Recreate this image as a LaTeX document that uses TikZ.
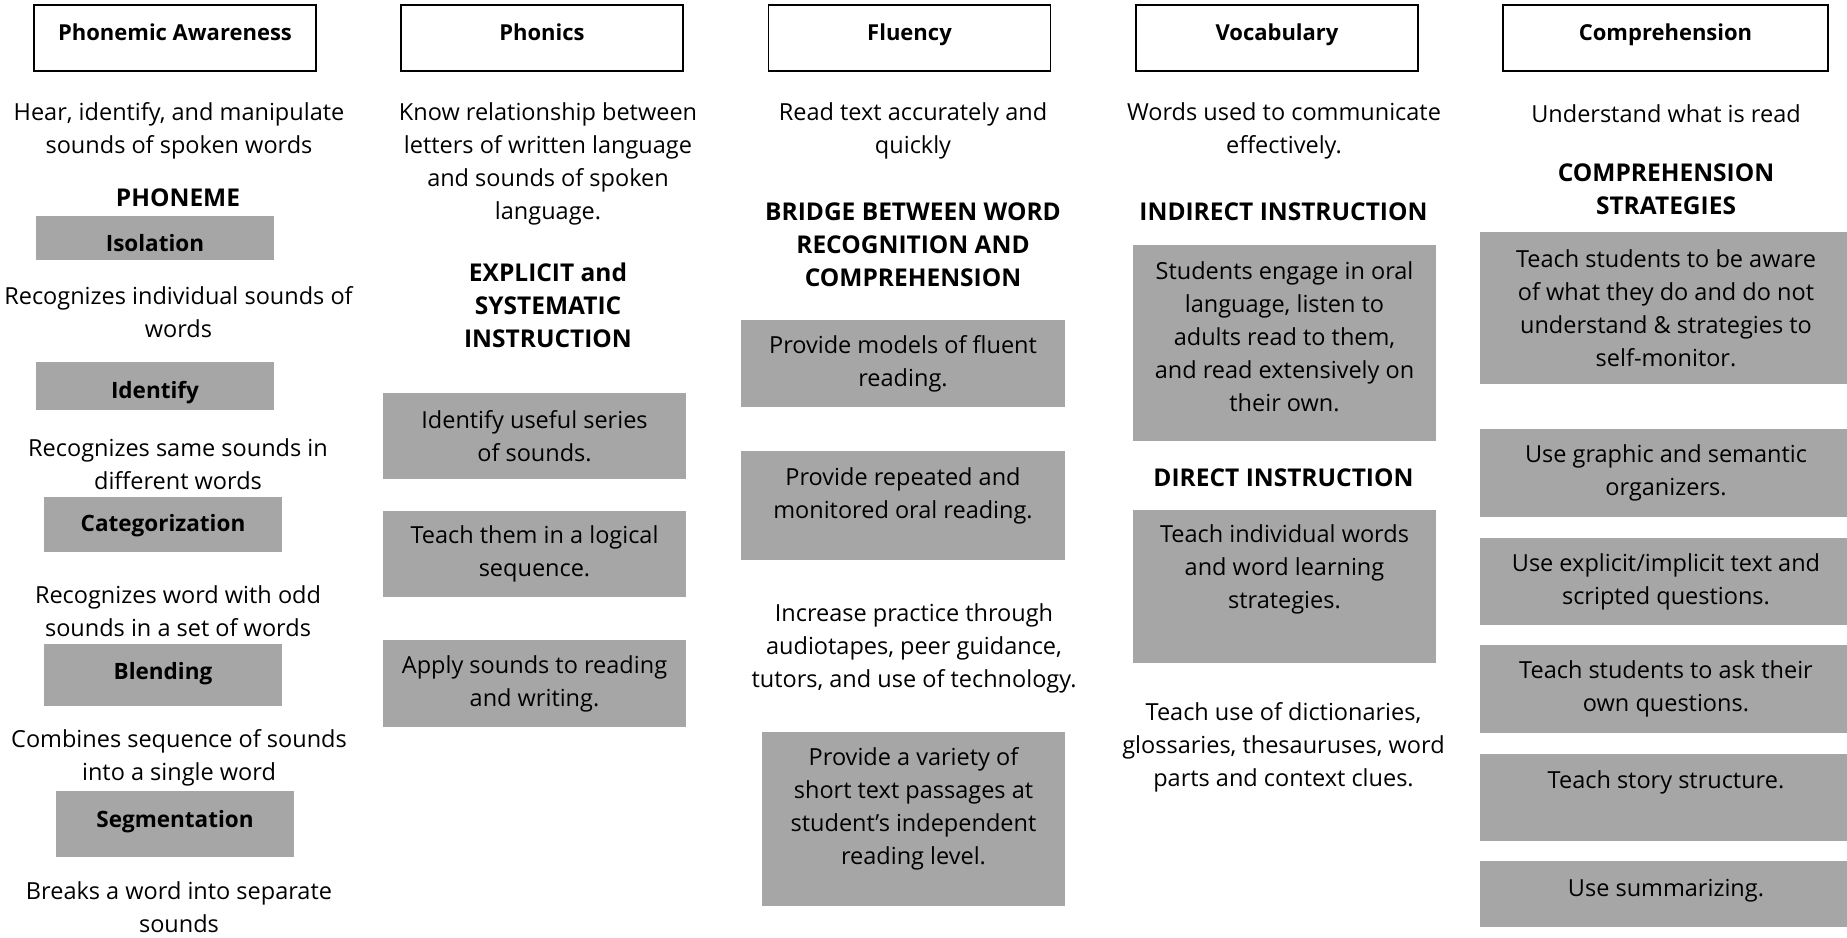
\documentclass[tikz,border=0pt]{standalone}
\usepackage{fontspec}
\setmainfont{Open Sans}
\usepackage{tikz}
\definecolor{boxgray}{HTML}{A6A6A6}

\begin{document}
\begin{tikzpicture}[x=1pt, y=-1pt]
    \tikzstyle{headbox} = [rectangle, draw=black, line width=1.5pt, fill=white, minimum width=282pt, minimum height=66pt, font=\fontsize{22}{30}\selectfont\bfseries, text height=17pt, text depth=13pt]
    \tikzstyle{graybox} = [rectangle, fill=boxgray, inner sep=0pt, align=center, font=\fontsize{23.5}{33}\selectfont]
    \tikzstyle{skillbox} = [graybox, minimum width=238pt, font=\fontsize{22.5}{30}\selectfont\bfseries]
    \tikzstyle{plain} = [align=center, inner sep=0pt, font=\fontsize{23.5}{33}\selectfont]
    \tikzstyle{subhead} = [align=center, inner sep=0pt, font=\fontsize{24.5}{33}\selectfont\bfseries]
    \useasboundingbox (0,0) rectangle (1847,937);

    % Phonemic Awareness
    \node (pahead) [headbox] at (175,38) {Phonemic Awareness};
    \node (padesc) [plain] at (179,130.5) {Hear, identify, and manipulate\\sounds of spoken words};
    \node (phoneme) [subhead] at (178,198) {PHONEME};
    \node (isolation) [skillbox, minimum height=44pt, text height=28pt, text depth=2pt] at (155,238) {Isolation};
    \node (isodesc) [plain] at (178.5,312) {Recognizes individual sounds of\\words};
    \node (identify) [skillbox, minimum height=48pt, text height=27pt, text depth=3pt] at (155,386) {Identify};
    \node (iddesc) [plain] at (178,464.5) {Recognizes same sounds in\\different words};
    \node (categ) [skillbox, minimum height=55pt, text height=21.5pt, text depth=8.5pt] at (163,524.5) {Categorization};
    \node (catdesc) [plain] at (178,611.5) {Recognizes word with odd\\sounds in a set of words};
    \node (blending) [skillbox, minimum height=62pt, text height=19pt, text depth=11pt] at (163,675) {Blending};
    \node (blenddesc) [plain] at (179,758) {Combines sequence of sounds\\into a single word};
    \node (segment) [skillbox, minimum height=66pt, text height=18pt, text depth=12pt] at (175,824) {Segmentation};
    \node (segdesc) [plain] at (179,907) {Breaks a word into separate\\sounds};

    % Phonics
    \node (phhead) [headbox] at (542,38) {Phonics};
    \node (phdesc) [plain] at (548,164) {Know relationship between\\letters of written language\\and sounds of spoken\\language.};
    \node (explicit) [subhead] at (548,305) {EXPLICIT and\\SYSTEMATIC\\INSTRUCTION};
    \node (series) [graybox, minimum width=303pt, minimum height=86pt] at (534.5,436) {Identify useful series\\of sounds.};
    \node (logical) [graybox, minimum width=303pt, minimum height=86pt] at (534.5,554) {Teach them in a logical\\sequence.};
    \node (apply) [graybox, minimum width=303pt, minimum height=87pt] at (534.5,683.5) {Apply sounds to reading\\and writing.};

    % Fluency
    \node (flhead) [headbox] at (909.5,38) {Fluency};
    \node (fldesc) [plain] at (913,131) {Read text accurately and\\quickly};
    \node (bridge) [subhead] at (913,245) {BRIDGE BETWEEN WORD\\RECOGNITION AND\\COMPREHENSION};
    \node (models) [graybox, minimum width=324pt, minimum height=87pt] at (903,363.5) {Provide models of fluent\\reading.};
    \node (repeated) [graybox, minimum width=324pt, minimum height=109pt] at (903,505.5) {Provide repeated and\\monitored oral reading.\\[-8pt]\mbox{}};
    \node (practice) [plain] at (914,648) {Increase practice through\\audiotapes, peer guidance,\\tutors, and use of technology.};
    \node (variety) [graybox, minimum width=303pt, minimum height=174pt] at (913.5,819) {Provide a variety of\\short text passages at\\student's independent\\reading level.\\[-6pt]\mbox{}};

    % Vocabulary
    \node (vohead) [headbox] at (1277,38) {Vocabulary};
    \node (vodesc) [plain] at (1284,131) {Words used to communicate\\effectively.};
    \node (indirect) [subhead] at (1283.5,212) {INDIRECT INSTRUCTION};
    \node (oral) [graybox, minimum width=303pt, minimum height=196pt] at (1284.5,343) {Students engage in oral\\language, listen to\\adults read to them,\\and read extensively on\\their own.\\[-20pt]\mbox{}};
    \node (direct) [subhead] at (1283.5,478) {DIRECT INSTRUCTION};
    \node (words) [graybox, minimum width=303pt, minimum height=153pt] at (1284.5,586.5) {Teach individual words\\and word learning\\strategies.\\[6pt]\mbox{}};
    \node (dict) [plain] at (1283.5,747) {Teach use of dictionaries,\\glossaries, thesauruses, word\\parts and context clues.};

    % Comprehension
    \node (cohead) [headbox, minimum width=325pt] at (1665.5,38) {Comprehension};
    \node (codesc) [plain] at (1666,114) {Understand what is read};
    \node (strat) [subhead] at (1666,189) {COMPREHENSION\\STRATEGIES};
    \node (aware) [graybox, minimum width=372pt, minimum height=152pt] at (1666,308) {Teach students to be aware\\of what they do and do not\\understand \& strategies to\\self-monitor.};
    \node (graphic) [graybox, minimum width=372pt, minimum height=88pt] at (1666,473) {Use graphic and semantic\\organizers.};
    \node (scripted) [graybox, minimum width=372pt, minimum height=87pt] at (1666,581.5) {Use explicit/implicit text and\\scripted questions.};
    \node (ask) [graybox, minimum width=372pt, minimum height=88pt] at (1666,689) {Teach students to ask their\\own questions.};
    \node (story) [graybox, minimum width=372pt, minimum height=87pt, text height=5.5pt, text depth=24.5pt] at (1666,797.5) {Teach story structure.};
    \node (summ) [graybox, minimum width=372pt, minimum height=66pt, text height=17pt, text depth=13pt] at (1666,894) {Use summarizing.};
\end{tikzpicture}
\end{document}
